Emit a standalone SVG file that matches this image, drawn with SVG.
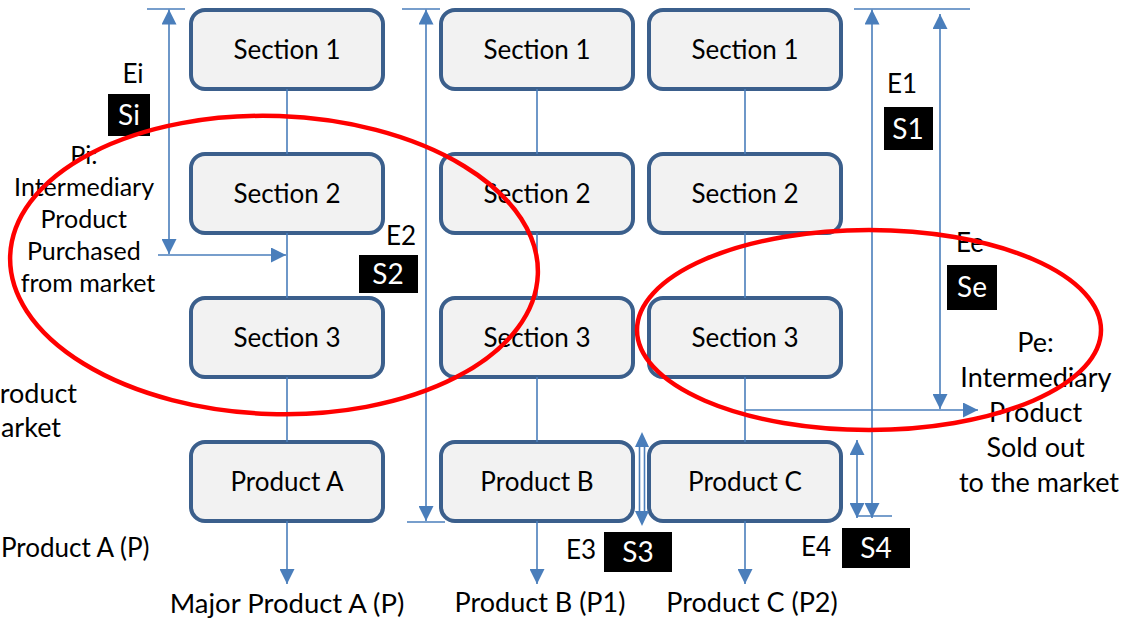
<svg xmlns="http://www.w3.org/2000/svg" width="1124" height="621" viewBox="0 0 1124 621">
  <style>
    .box { fill: #F2F2F2; stroke: #3B5F8C; stroke-width: 4; }
    .lbl { font-family: Lato, "Liberation Sans", sans-serif; font-size: 26px; fill: #000; text-anchor: middle; }
    .txt { font-family: Lato, "Liberation Sans", sans-serif; fill: #000; }
    .tag { fill: #000; }
    .tagtxt { font-family: Lato, "Liberation Sans", sans-serif; font-size: 28px; fill: #fff; text-anchor: middle; }
    .ln { stroke: #4A7EBB; stroke-width: 1.6; fill: none; }
    .ring { fill: none; stroke: #FF0000; stroke-width: 4.5; }
  </style>
  <defs>
    <marker id="ah" viewBox="0 0 15 15" refX="15" refY="7.5" markerWidth="15" markerHeight="15" markerUnits="userSpaceOnUse" orient="auto-start-reverse">
      <path d="M0,0 L15,7.5 L0,15 z" fill="#4A7EBB"/>
    </marker>
  </defs>
  <rect width="1124" height="621" fill="#fff"/>

  <!-- column A -->
  <g id="a-section1"><rect class="box" x="191" y="10" width="192" height="79" rx="14"/><text class="lbl" x="287" y="59">Section 1</text></g>
  <g id="a-section2"><rect class="box" x="191" y="154" width="192" height="79" rx="14"/><text class="lbl" x="287" y="203">Section 2</text></g>
  <g id="a-section3"><rect class="box" x="191" y="298" width="192" height="79" rx="14"/><text class="lbl" x="287" y="347">Section 3</text></g>
  <g id="a-product"><rect class="box" x="191" y="442" width="192" height="79" rx="14"/><text class="lbl" x="287" y="491">Product A</text></g>

  <!-- column B -->
  <g id="b-section1"><rect class="box" x="441" y="10" width="192" height="79" rx="14"/><text class="lbl" x="537" y="59">Section 1</text></g>
  <g id="b-section2"><rect class="box" x="441" y="154" width="192" height="79" rx="14"/><text class="lbl" x="537" y="203">Section 2</text></g>
  <g id="b-section3"><rect class="box" x="441" y="298" width="192" height="79" rx="14"/><text class="lbl" x="537" y="347">Section 3</text></g>
  <g id="b-product"><rect class="box" x="441" y="442" width="192" height="79" rx="14"/><text class="lbl" x="537" y="491">Product B</text></g>

  <!-- column C -->
  <g id="c-section1"><rect class="box" x="649" y="10" width="192" height="79" rx="14"/><text class="lbl" x="745" y="59">Section 1</text></g>
  <g id="c-section2"><rect class="box" x="649" y="154" width="192" height="79" rx="14"/><text class="lbl" x="745" y="203">Section 2</text></g>
  <g id="c-section3"><rect class="box" x="649" y="298" width="192" height="79" rx="14"/><text class="lbl" x="745" y="347">Section 3</text></g>
  <g id="c-product"><rect class="box" x="649" y="442" width="192" height="79" rx="14"/><text class="lbl" x="745" y="491">Product C</text></g>

  <!-- flows and measurement arrows -->
  <g id="connectors">
    <line class="ln" x1="287" y1="89" x2="287" y2="154"/>
    <line class="ln" x1="287" y1="233" x2="287" y2="298"/>
    <line class="ln" x1="287" y1="377" x2="287" y2="442"/>
    <line class="ln" x1="287" y1="521" x2="287" y2="584" marker-end="url(#ah)"/>

    <line class="ln" x1="537" y1="89" x2="537" y2="154"/>
    <line class="ln" x1="537" y1="233" x2="537" y2="298"/>
    <line class="ln" x1="537" y1="377" x2="537" y2="442"/>
    <line class="ln" x1="537" y1="521" x2="537" y2="584" marker-end="url(#ah)"/>

    <line class="ln" x1="745" y1="89" x2="745" y2="154"/>
    <line class="ln" x1="745" y1="233" x2="745" y2="298"/>
    <line class="ln" x1="745" y1="377" x2="745" y2="442"/>
    <line class="ln" x1="745" y1="521" x2="745" y2="584" marker-end="url(#ah)"/>

    <!-- Ei / purchase input -->
    <line class="ln" x1="147" y1="9" x2="185" y2="9"/>
    <line class="ln" x1="169" y1="9.5" x2="169" y2="254" marker-start="url(#ah)" marker-end="url(#ah)"/>
    <line class="ln" x1="158" y1="255" x2="286" y2="255" marker-end="url(#ah)"/>

    <!-- E2 span -->
    <line class="ln" x1="402" y1="9" x2="440" y2="9"/>
    <line class="ln" x1="407" y1="522" x2="445" y2="522"/>
    <line class="ln" x1="426" y1="9.5" x2="426" y2="521" marker-start="url(#ah)" marker-end="url(#ah)"/>

    <!-- E1 / Ee spans -->
    <line class="ln" x1="854" y1="9" x2="970" y2="9"/>
    <line class="ln" x1="872" y1="9.5" x2="872" y2="518" marker-start="url(#ah)" marker-end="url(#ah)"/>
    <line class="ln" x1="940" y1="14" x2="940" y2="409" marker-start="url(#ah)" marker-end="url(#ah)"/>
    <line class="ln" x1="745" y1="410" x2="978" y2="410" marker-end="url(#ah)"/>

    <!-- E4 span -->
    <line class="ln" x1="857" y1="516" x2="892" y2="516"/>
    <line class="ln" x1="857" y1="440" x2="857" y2="518" marker-start="url(#ah)" marker-end="url(#ah)"/>

    <!-- E3 span -->
    <rect x="639.5" y="446" width="5" height="66" fill="#fff" stroke="#4A7EBB" stroke-width="1.6"/>
    <path d="M642,432 L649,447 L635,447 z" fill="#4A7EBB"/>
    <path d="M642,526 L649,511 L635,511 z" fill="#4A7EBB"/>
  </g>

  <!-- labels -->
  <g id="labels">
    <text class="txt" x="133" y="83" font-size="26" text-anchor="middle">Ei</text>
    <rect class="tag" x="108" y="94" width="42" height="42"/>
    <text class="tagtxt" x="129" y="125">Si</text>

    <text class="txt" font-size="25" text-anchor="middle">
      <tspan x="87" y="164">Pi:</tspan>
      <tspan x="87" y="196">Intermediary</tspan>
      <tspan x="87" y="228">Product</tspan>
      <tspan x="87" y="260">Purchased</tspan>
      <tspan x="88" y="292">from market</tspan>
    </text>

    <text class="txt" x="401" y="245" font-size="26" text-anchor="middle">E2</text>
    <rect class="tag" x="359" y="255" width="59" height="38"/>
    <text class="tagtxt" x="388" y="284">S2</text>

    <text class="txt" x="902" y="93" font-size="26" text-anchor="middle">E1</text>
    <rect class="tag" x="884" y="107" width="49" height="43"/>
    <text class="tagtxt" x="908" y="139">S1</text>

    <text class="txt" x="970" y="252" font-size="26" text-anchor="middle">Ee</text>
    <rect class="tag" x="947" y="265" width="50" height="45"/>
    <text class="tagtxt" x="972" y="297">Se</text>

    <text class="txt" font-size="27" text-anchor="middle">
      <tspan x="1039" y="352">Pe:</tspan>
      <tspan x="1039" y="387">Intermediary</tspan>
      <tspan x="1039" y="422">Product</tspan>
      <tspan x="1039" y="457">Sold out</tspan>
      <tspan x="1039" y="492">to the market</tspan>
    </text>

    <text class="txt" x="581" y="559" font-size="26" text-anchor="middle">E3</text>
    <rect class="tag" x="604" y="532" width="68" height="40"/>
    <text class="tagtxt" x="638" y="562">S3</text>

    <text class="txt" x="816" y="556" font-size="26" text-anchor="middle">E4</text>
    <rect class="tag" x="842" y="528" width="68" height="40"/>
    <text class="tagtxt" x="876" y="558">S4</text>

    <text class="txt" x="77" y="403" font-size="27" text-anchor="end">roduct</text>
    <text class="txt" x="61" y="437" font-size="27" text-anchor="end">arket</text>
    <text class="txt" x="1" y="557" font-size="26">Product A (P)</text>

    <text class="txt" x="287" y="613" font-size="27.5" text-anchor="middle">Major Product A (P)</text>
    <text class="txt" x="540" y="612" font-size="27" text-anchor="middle">Product B (P1)</text>
    <text class="txt" x="752" y="612" font-size="27" text-anchor="middle">Product C (P2)</text>
  </g>

  <!-- red highlight rings -->
  <g id="highlights">
    <ellipse class="ring" cx="274" cy="265" rx="264" ry="149" transform="rotate(2 274 265)"/>
    <ellipse class="ring" cx="869" cy="330" rx="232" ry="100"/>
  </g>
</svg>
